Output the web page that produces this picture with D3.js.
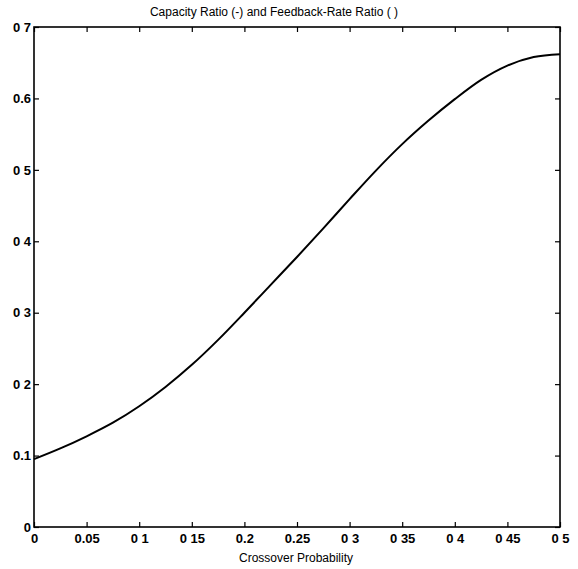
<!DOCTYPE html>
<html>
<head>
<meta charset="utf-8">
<script src="https://cdn.jsdelivr.net/npm/d3@7"></script>
<style>
  html, body { margin: 0; padding: 0; background: #fff; }
  svg { display: block; }
  .lbl { font-family: "Liberation Sans Narrow", "Liberation Sans", Arial, sans-serif; fill: #000; }
</style>
</head>
<body>
<svg id="chart" width="578" height="569"></svg>
<script>
// Crossover probability samples and the plotted ratio
const crossover = [0, 0.025, 0.05, 0.075, 0.1, 0.125, 0.15, 0.175, 0.2, 0.225, 0.25,
                   0.275, 0.3, 0.325, 0.35, 0.375, 0.4, 0.425, 0.45, 0.475, 0.5];
const ratio = [0.095, 0.110, 0.127, 0.146, 0.169, 0.196, 0.227, 0.262, 0.300, 0.339, 0.378,
               0.418, 0.459, 0.499, 0.536, 0.569, 0.599, 0.626, 0.646, 0.658, 0.662];

// Tick values and their printed labels
const xTicks = [0, 0.05, 0.1, 0.15, 0.2, 0.25, 0.3, 0.35, 0.4, 0.45, 0.5];
const xTickLabels = ["0", "0.05", "0 1", "0 15", "0.2", "0.25", "0 3", "0 35", "0 4", "0 45", "0 5"];
const yTicks = [0, 0.1, 0.2, 0.3, 0.4, 0.5, 0.6, 0.7];
const yTickLabels = ["0", "0.1", "0 2", "0 3", "0 4", "0 5", "0.6", "0 7"];

const titleText = "Capacity Ratio (-) and Feedback-Rate Ratio ( )";
const xLabelText = "Crossover Probability";

const svg = d3.select("#chart");
const plotLeft = 34, plotRight = 560, plotTop = 27, plotBottom = 527;

const x = d3.scaleLinear().domain([0, 0.5]).range([plotLeft, plotRight]);
const y = d3.scaleLinear().domain([0, 0.7]).range([plotBottom, plotTop]);

const tickLen = 5;

// Inward ticks on all four sides
const axes = [
  d3.axisBottom(x).tickValues(xTicks).tickSize(-tickLen).tickFormat((d, i) => xTickLabels[i]),
  d3.axisTop(x).tickValues(xTicks).tickSize(-tickLen).tickFormat(""),
  d3.axisLeft(y).tickValues(yTicks).tickSize(-tickLen).tickFormat((d, i) => yTickLabels[i]),
  d3.axisRight(y).tickValues(yTicks).tickSize(-tickLen).tickFormat("")
];
const transforms = [
  `translate(0,${plotBottom})`, `translate(0,${plotTop})`,
  `translate(${plotLeft},0)`, `translate(${plotRight},0)`
];
axes.forEach((ax, i) => {
  const g = svg.append("g").attr("transform", transforms[i]).call(ax);
  g.select(".domain").remove();
  g.selectAll(".tick line").attr("stroke", "#000").attr("stroke-width", 1.2);
  g.selectAll(".tick text")
    .attr("class", "lbl")
    .style("font-size", "13px")
    .style("font-weight", "bold");
  if (i === 0) g.selectAll(".tick text").attr("y", 7).attr("dy", "0.71em");
  if (i === 2) g.selectAll(".tick text").attr("x", -3);
});

// Plot frame
svg.append("rect")
  .attr("x", plotLeft).attr("y", plotTop)
  .attr("width", plotRight - plotLeft).attr("height", plotBottom - plotTop)
  .attr("fill", "none").attr("stroke", "#000").attr("stroke-width", 1.6);

// Ratio curve
const line = d3.line()
  .x((d, i) => x(crossover[i]))
  .y(d => y(d))
  .curve(d3.curveMonotoneX);
svg.append("path")
  .datum(ratio)
  .attr("d", line)
  .attr("fill", "none")
  .attr("stroke", "#000")
  .attr("stroke-width", 2);

// Title and axis label
svg.append("text").attr("class", "lbl")
  .attr("x", 274).attr("y", 16)
  .attr("text-anchor", "middle")
  .style("font-size", "12px")
  .text(titleText);

svg.append("text").attr("class", "lbl")
  .attr("x", 296).attr("y", 562)
  .attr("text-anchor", "middle")
  .style("font-size", "12px")
  .text(xLabelText);
</script>
</body>
</html>
